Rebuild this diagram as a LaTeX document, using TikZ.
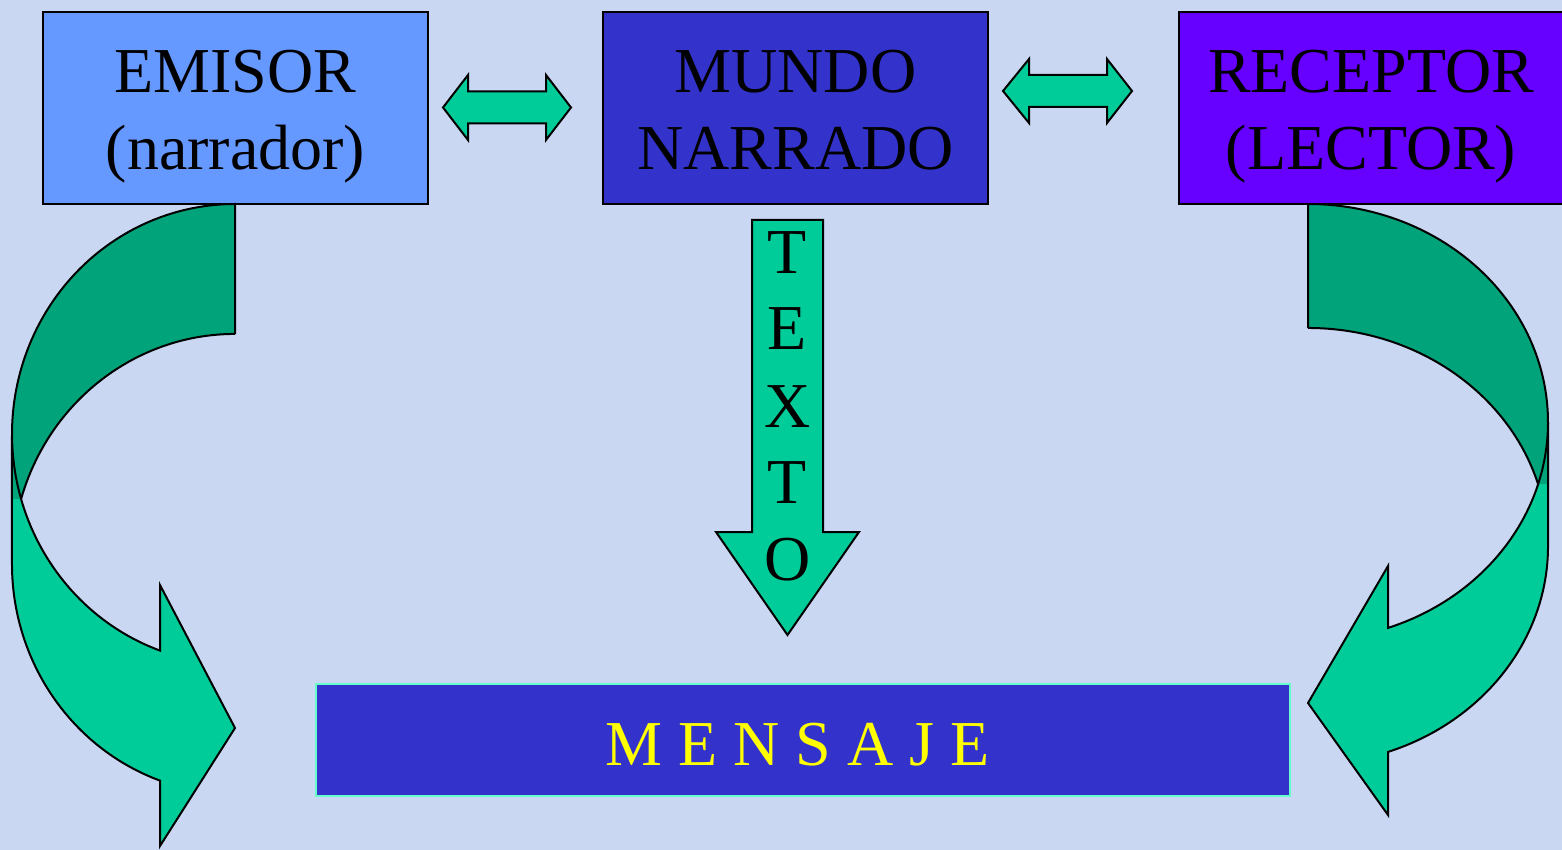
\documentclass[tikz,border=0pt]{standalone}
\usepackage{fontspec}
\setmainfont{Liberation Serif}
\definecolor{bgc}{RGB}{202,215,243}
\definecolor{emisorc}{RGB}{102,153,255}
\definecolor{mundoc}{RGB}{51,51,204}
\definecolor{receptorc}{RGB}{102,0,255}
\definecolor{lgreen}{RGB}{0,204,153}
\definecolor{dgreen}{RGB}{0,163,122}
\definecolor{mborder}{RGB}{102,255,204}
\definecolor{ytext}{RGB}{255,255,0}
\begin{document}
\begin{tikzpicture}[x=1pt,y=-1pt,
  box/.style={draw=black, line width=2pt, inner sep=0pt, minimum width=385pt, minimum height=192pt},
  lbl/.style={font=\fontsize{64}{77}\selectfont, anchor=base, inner sep=0pt, text=black},
  blockarrow/.style={fill=lgreen, draw=black, line width=2pt, line join=miter},
  backface/.style={fill=dgreen},
  edge/.style={draw=black, line width=2pt},
  eA/.style={x radius=223, y radius=230},
  eB/.style={x radius=240, y radius=218.2}]
\useasboundingbox (0,0) rectangle (1562,850);
\clip (0,0) rectangle (1562,850);
\fill[bgc] (0,0) rectangle (1562,850);

% boxes
\node[box, fill=emisorc] (emisor) at (235.5,108) {};
\node[box, fill=mundoc] (mundo) at (795.5,108) {};
\node[box, fill=receptorc, minimum width=384pt] (receptor) at (1371,108) {};
\node[lbl] (emisor1) at (235.5,93) {EMISOR};
\node[lbl] (emisor2) at (235.5,170) {(narrador)};
\node[lbl] (mundo1) at (795.5,93) {MUNDO};
\node[lbl] (mundo2) at (795.5,170) {NARRADO};
\node[lbl] (receptor1) at (1371,93) {RECEPTOR};
\node[lbl] (receptor2) at (1371,170) {(LECTOR)};

% mensaje
\node[draw=mborder, line width=2pt, fill=mundoc, inner sep=0pt,
      minimum width=974pt, minimum height=112pt] (mensaje) at (803,740) {};
\node[lbl, text=ytext] (mensajeT) at (797.5,765) {M E N S A J E};

% double arrows
\path[blockarrow] (443,107.5) -- (468,75) -- (468,91.5) -- (546,91.5) -- (546,75) -- (571,107.5)
  -- (546,140) -- (546,123.5) -- (468,123.5) -- (468,140) -- cycle;
\path[blockarrow] (1003,91) -- (1029,59) -- (1029,75) -- (1107,75) -- (1107,59) -- (1132,91)
  -- (1107,123) -- (1107,107) -- (1029,107) -- (1029,123) -- cycle;

% TEXTO arrow
\path[blockarrow] (752,220) -- (823,220) -- (823,532) -- (859,532) -- (787.5,635) -- (716,532) -- (752,532) -- cycle;
\node[lbl] (t1) at (787.5,273) {T};
\node[lbl] (t2) at (787.5,349) {E};
\node[lbl] (t3) at (787.5,427) {X};
\node[lbl] (t4) at (787.5,503) {T};
\node[lbl] (t5) at (787.5,580) {O};

% left curved arrow
\path[blockarrow] (12,434) arc[start angle=180, end angle=109.65, eA] -- (160,585) -- (235,728) -- (160,846)
  -- (160,780.6) arc[start angle=109.65, end angle=180, eA] -- cycle;
\fill[backface] (235,204) arc[start angle=270, end angle=180, eA] -- (12,499) -- (21.1,499)
  arc[start angle=196.4, end angle=270, eA] -- cycle;
\path[edge] (235,334) -- (235,204) arc[start angle=270, end angle=163.6, eA];
\path[edge] (21.1,499) arc[start angle=196.4, end angle=270, eA];
\path[edge] (12,434) -- (12,564);

% right curved arrow
\path[blockarrow] (1548,422.2) arc[start angle=0, end angle=70.53, eB] -- (1388,566) -- (1308,703) -- (1388,815)
  -- (1388,751.9) arc[start angle=70.53, end angle=0, eB] -- cycle;
\fill[backface] (1308,204) arc[start angle=-90, end angle=0, eB] -- (1548,484.2) -- (1538.1,484.2)
  arc[start angle=-16.5, end angle=-90, eB] -- cycle;
\path[edge] (1308,328) -- (1308,204) arc[start angle=-90, end angle=16.5, eB];
\path[edge] (1538.1,484.2) arc[start angle=-16.5, end angle=-90, eB];
\path[edge] (1548,422.2) -- (1548,546.2);
\end{tikzpicture}
\end{document}
